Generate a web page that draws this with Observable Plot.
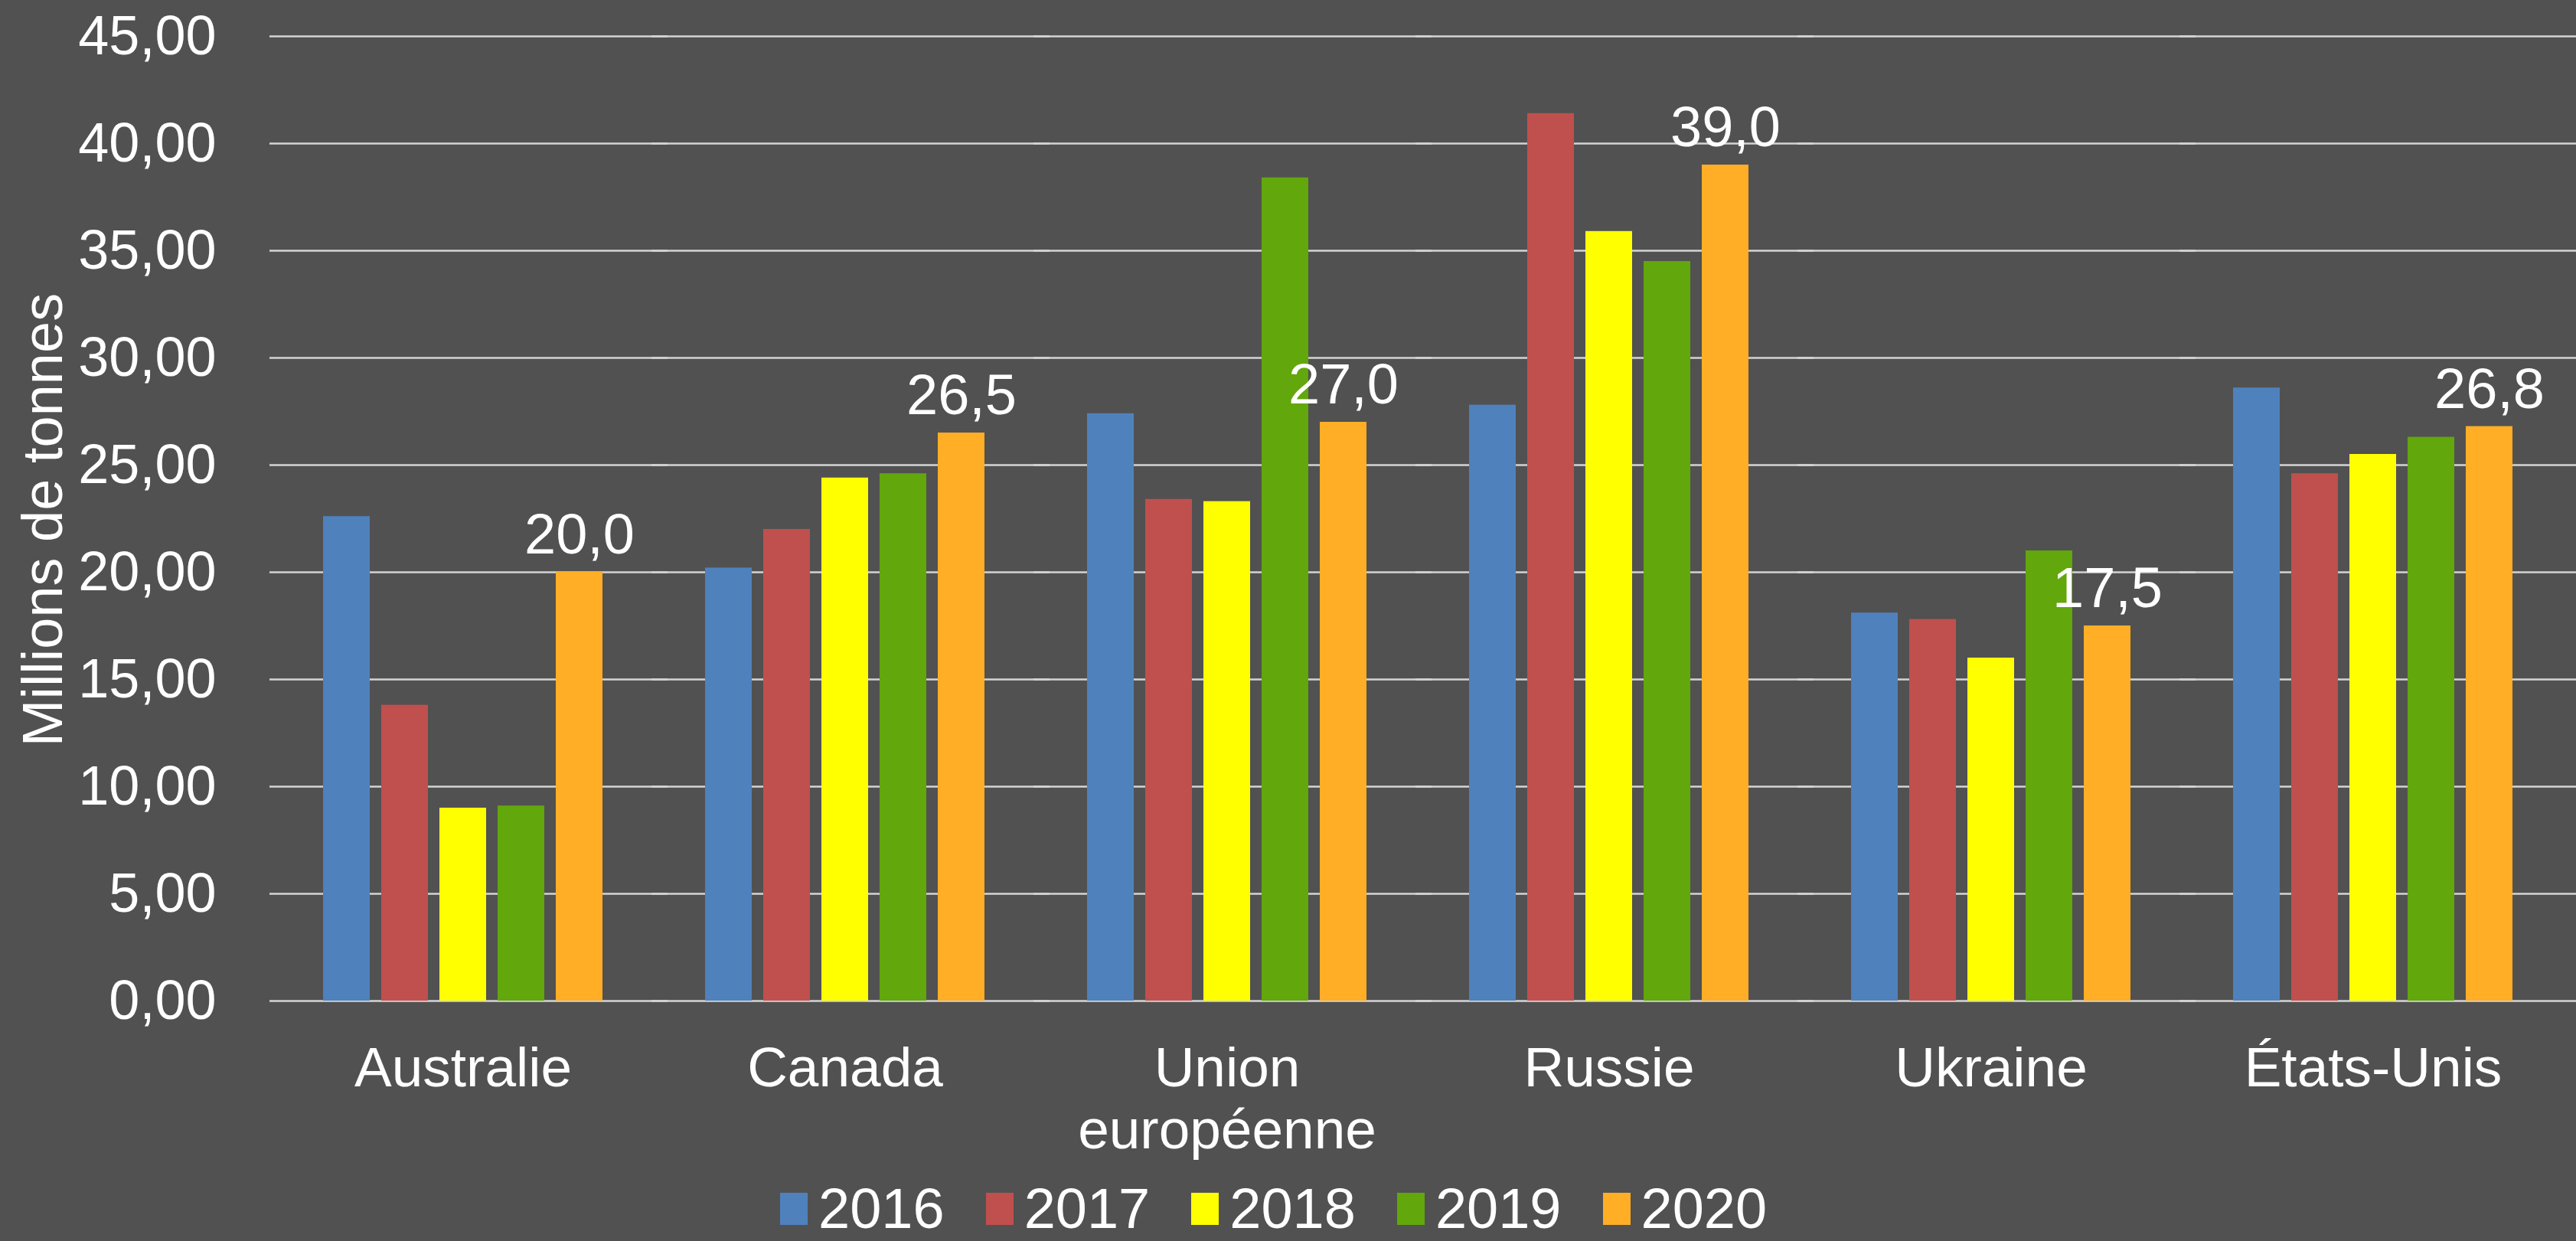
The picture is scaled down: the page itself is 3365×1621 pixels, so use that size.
<!DOCTYPE html>
<html>
<head>
<meta charset="utf-8">
<script src="https://cdn.jsdelivr.net/npm/d3@7"></script>
<script src="https://cdn.jsdelivr.net/npm/@observablehq/plot@0.6"></script>
<style>
html, body { margin: 0; padding: 0; background: #515151; width: 3365px; height: 1621px; overflow: hidden; }
#wrap { position: relative; width: 3365px; height: 1621px; font-family: "Liberation Sans", Arial, sans-serif; }
#chart { position: absolute; left: 0; top: 0; }
#ytitle { position: absolute; left: 56px; top: 679px; transform: translate(-50%, -50%) rotate(-90deg); white-space: nowrap; color: #fff; font-size: 74px; line-height: 1; }
#legend { position: absolute; left: 1019px; top: 1549px; height: 60px; display: flex; align-items: center; color: #fff; font-size: 74px; line-height: 60px; }
#legend .item { display: flex; align-items: center; margin-right: 54px; }
#legend .sw { width: 36px; height: 42px; margin-right: 14px; }
</style>
</head>
<body>
<div id="wrap"><div id="chart"></div><div id="ytitle"></div><div id="legend"></div></div>
<script>
const countries = ["Australie", "Canada", "Union européenne", "Russie", "Ukraine", "États-Unis"];
const countryLabels = ["Australie", "Canada", "Union\neuropéenne", "Russie", "Ukraine", "États-Unis"];
const years = ["2016", "2017", "2018", "2019", "2020"];
const colors = ["#4f81bd", "#c0504d", "#ffff00", "#62a70b", "#ffae26"];
const v2016 = [22.6, 20.2, 27.4, 27.8, 18.1, 28.6];
const v2017 = [13.8, 22.0, 23.4, 41.4, 17.8, 24.6];
const v2018 = [9.0, 24.4, 23.3, 35.9, 16.0, 25.5];
const v2019 = [9.1, 24.6, 38.4, 34.5, 21.0, 26.3];
const v2020 = [20.0, 26.5, 27.0, 39.0, 17.5, 26.8];
const yTicks = [0, 5, 10, 15, 20, 25, 30, 35, 40, 45];
const labelledYear = "2020";
const yTitle = "Millions de tonnes";

const series = [v2016, v2017, v2018, v2019, v2020];
const rows = [];
countries.forEach((c, i) => years.forEach((y, j) => rows.push({country: c, year: y, value: series[j][i]})));
const labelRows = rows.filter(d => d.year === labelledYear);
const fmtTick = d => d.toFixed(2).replace(".", ",");
const fmtVal = d => d.toFixed(1).replace(".", ",");
const labelOf = Object.fromEntries(countries.map((c, i) => [c, countryLabels[i]]));

const font = "'Liberation Sans', Arial, sans-serif";

const chart = Plot.plot({
  width: 3365,
  height: 1530,
  marginLeft: 354,
  marginRight: 0,
  marginTop: 47,
  marginBottom: 223,
  style: {background: "transparent", color: "#ffffff", fontFamily: font, fontSize: "72px"},
  fx: {domain: countries, paddingInner: 0.268, paddingOuter: 0.151, align: 0.454, axis: null, label: null},
  x: {domain: years, paddingInner: 0.2, paddingOuter: 0, axis: null},
  y: {domain: [0, 45], ticks: yTicks, tickFormat: fmtTick, tickSize: 0, tickPadding: 140, label: null},
  color: {domain: years, range: colors},
  marks: [
    Plot.ruleY(yTicks, {y: d => d, stroke: "#d4d4d4", strokeWidth: 2.5, insetLeft: -70, insetRight: -85, facet: "exclude"}),
    Plot.barY(rows, {fx: "country", x: "year", y: "value", fill: "year"}),
    Plot.text(labelRows, {fx: "country", x: "year", y: "value", text: d => fmtVal(d.value), dy: -48, fill: "#ffffff", fontSize: 74}),
    Plot.text(countries, {fx: d => d, frameAnchor: "bottom", lineAnchor: "top", dy: 53, text: d => labelOf[d], fill: "#ffffff", fontSize: 73, lineHeight: 1.12})
  ]
});
document.getElementById("chart").appendChild(chart);
document.getElementById("ytitle").textContent = yTitle;

const legend = document.getElementById("legend");
years.forEach((y, i) => {
  const item = document.createElement("div");
  item.className = "item";
  const sw = document.createElement("div");
  sw.className = "sw";
  sw.style.background = colors[i];
  const t = document.createElement("span");
  t.textContent = y;
  item.appendChild(sw);
  item.appendChild(t);
  legend.appendChild(item);
});
</script>
</body>
</html>
